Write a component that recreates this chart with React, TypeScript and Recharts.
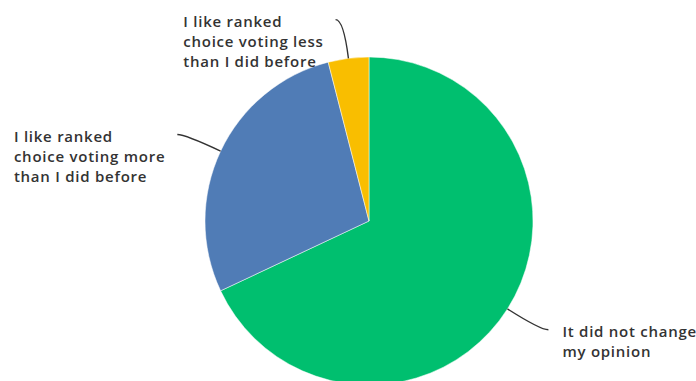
import React from "react";
import { PieChart, Pie, Cell } from "recharts";

const CATEGORIES = [
  "It did not change my opinion",
  "I like ranked choice voting more than I did before",
  "I like ranked choice voting less than I did before",
];
const LABEL_LINES = [
  ["It did not change", "my opinion"],
  ["I like ranked", "choice voting more", "than I did before"],
  ["I like ranked", "choice voting less", "than I did before"],
];
const SHARES = [68, 28, 4];
const COLORS = ["#00BF6F", "#507CB6", "#F9BE00"];

const data = CATEGORIES.map((name, i) => ({ name, value: SHARES[i] }));

const FONT = "'Open Sans', 'DejaVu Sans', sans-serif";
const FONT_SIZE = 15;
const FONT_WEIGHT = 600;
const LETTER_SPACING = 0.75;
const LINE_HEIGHT = 20;
const RAD = Math.PI / 180;

let ctx: CanvasRenderingContext2D | null = null;
function textWidth(s: string) {
  if (!ctx) ctx = document.createElement("canvas").getContext("2d");
  if (!ctx) return s.length * 8.3;
  ctx.font = `${FONT_WEIGHT} ${FONT_SIZE}px ${FONT}`;
  return ctx.measureText(s).width + LETTER_SPACING * s.length;
}

function polar(cx: number, cy: number, r: number, angle: number) {
  return { x: cx + r * Math.cos(-angle * RAD), y: cy + r * Math.sin(-angle * RAD) };
}

function renderLabel(props: any) {
  const { cx, cy, midAngle, outerRadius, index } = props;
  const p0 = polar(cx, cy, outerRadius, midAngle);
  const p1 = polar(cx, cy, outerRadius + 39, midAngle);
  const right = Math.cos(-midAngle * RAD) >= 0;
  const end = { x: p1.x + (right ? 8 : -8), y: p1.y };
  const lines = LABEL_LINES[index];
  const blockW = Math.max(...lines.map(textWidth));
  const tx = right ? end.x + 14 : end.x - 12 - blockW;
  const ty = end.y + 7;
  return (
    <g key={`label-${index}`}>
      <path
        d={`M${p0.x},${p0.y} Q${p1.x},${p1.y} ${end.x},${end.y}`}
        stroke="#333333"
        strokeWidth={1.4}
        fill="none"
      />
      <text
        x={tx}
        y={ty}
        fill="#333333"
        fontFamily={FONT}
        fontSize={FONT_SIZE}
        fontWeight={FONT_WEIGHT}
        letterSpacing={LETTER_SPACING}
        textAnchor="start"
      >
        {lines.map((l, i) => (
          <tspan key={i} x={tx} y={ty + i * LINE_HEIGHT}>
            {l}
          </tspan>
        ))}
      </text>
    </g>
  );
}

export default function App() {
  return (
    <div style={{ position: "absolute", left: 0, top: 0, background: "#fff" }}>
      <PieChart width={696} height={381} margin={{ top: 0, right: 0, bottom: 0, left: 0 }}>
        <Pie
          data={data}
          dataKey="value"
          nameKey="name"
          cx={369}
          cy={221}
          outerRadius={164}
          startAngle={90}
          endAngle={-270}
          stroke="#ffffff"
          strokeWidth={0.5}
          label={renderLabel}
          labelLine={false}
          isAnimationActive={false}
        >
          {data.map((d, i) => (
            <Cell key={d.name} fill={COLORS[i]} />
          ))}
        </Pie>
      </PieChart>
    </div>
  );
}
